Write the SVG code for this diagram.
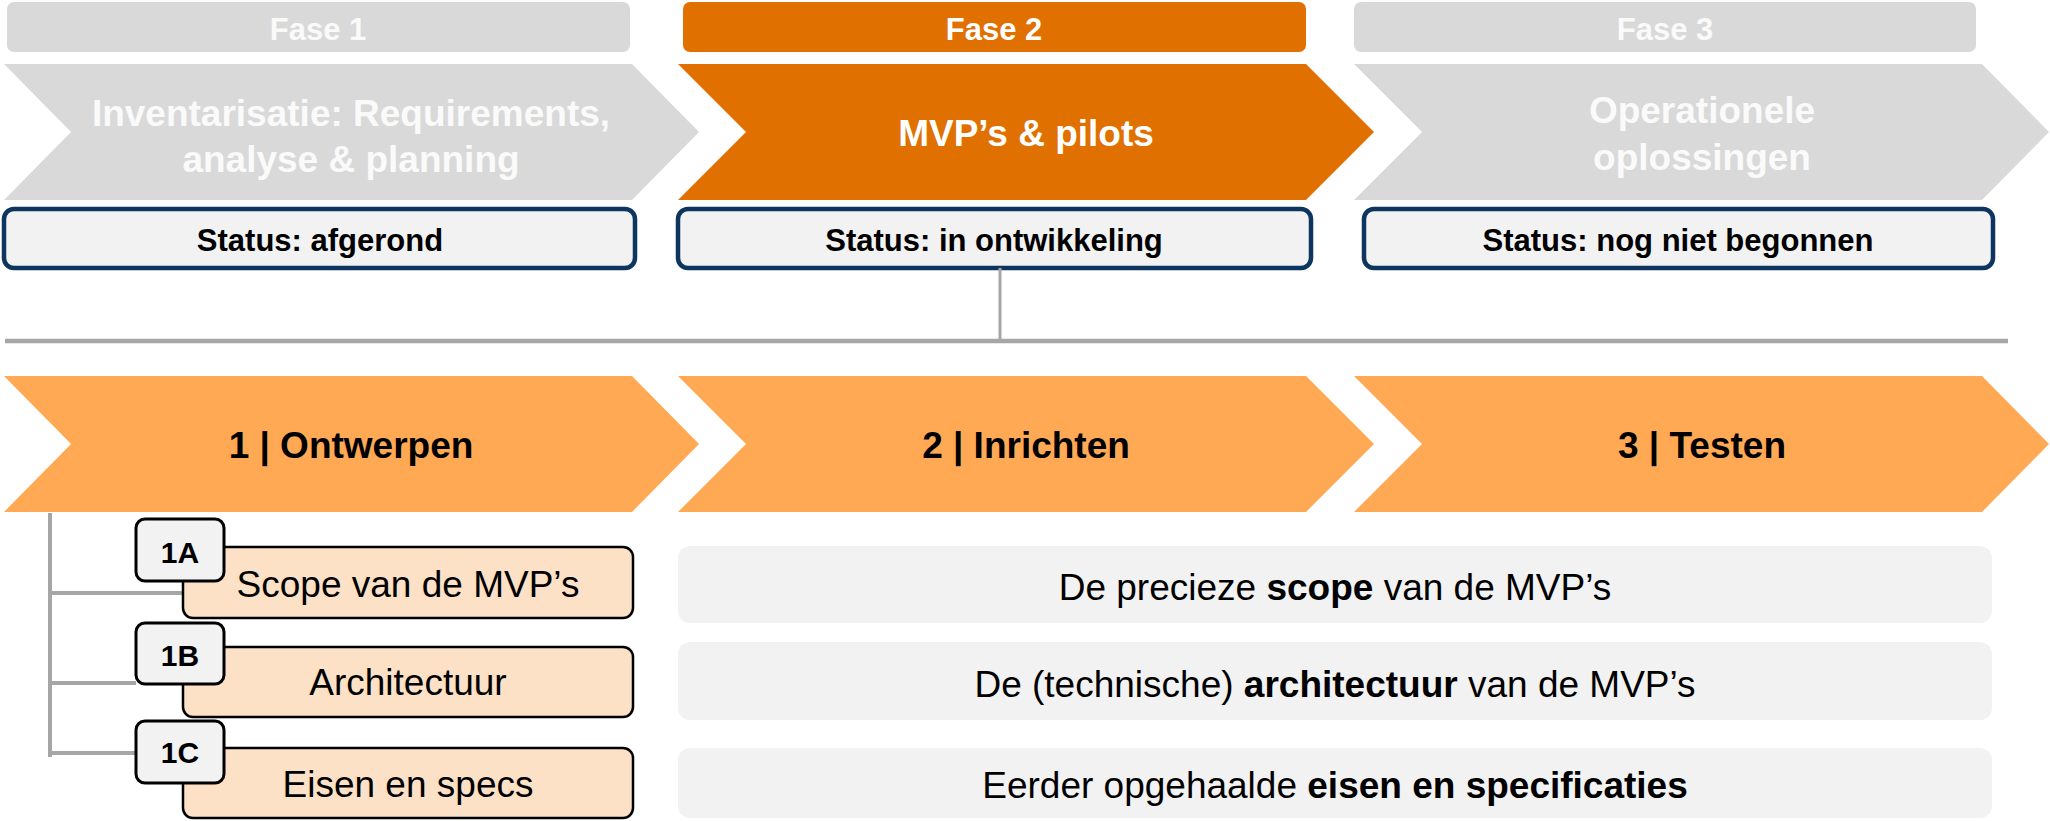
<svg xmlns="http://www.w3.org/2000/svg" width="2050" height="821" viewBox="0 0 2050 821">
<style>
text{font-family:"Liberation Sans",Arial,sans-serif;text-anchor:middle}
.b{font-weight:bold}
.fase{font-size:31px;font-weight:bold}
.chev{font-size:37px;font-weight:bold}
.stat{font-size:31px;font-weight:bold;fill:#000}
.statbox{fill:#f2f2f2;stroke:#0e3460;stroke-width:4.5}
.lbl{fill:#f2f2f2;stroke:#000;stroke-width:3}
.peach{fill:#fde1c6;stroke:#000;stroke-width:2.5}
.gbox{fill:#f2f2f2}
.ltxt{font-size:30px;font-weight:bold}
.ptxt{font-size:37px}
.line{stroke:#a6a6a6;fill:none}
</style>
<g id="fase1"><rect x="7" y="2" width="623" height="50" rx="7" fill="#d9d9d9"/><text x="318" y="40" class="fase" fill="#fafafa">Fase 1</text></g>
<g id="fase2"><rect x="683" y="2" width="623" height="50" rx="7" fill="#e07000"/><text x="994" y="40" class="fase" fill="#fff">Fase 2</text></g>
<g id="fase3"><rect x="1354" y="2" width="622" height="50" rx="7" fill="#d9d9d9"/><text x="1665" y="40" class="fase" fill="#fafafa">Fase 3</text></g>

<g id="chevron-inventarisatie"><polygon points="4,64 632,64 699,132 632,200 4,200 71,132" fill="#d9d9d9"/><text x="351" y="126" class="chev" fill="#fafafa">Inventarisatie: Requirements,</text><text x="351" y="172" class="chev" fill="#fafafa">analyse &amp; planning</text></g>
<g id="chevron-mvp"><polygon points="678,64 1306,64 1374,132 1306,200 678,200 746,132" fill="#e07000"/><text x="1026" y="146" class="chev" fill="#fff">MVP’s &amp; pilots</text></g>
<g id="chevron-operationeel"><polygon points="1354,64 1982,64 2049,132 1982,200 1354,200 1422,132" fill="#d9d9d9"/><text x="1702" y="123" class="chev" fill="#fafafa">Operationele</text><text x="1702" y="170" class="chev" fill="#fafafa">oplossingen</text></g>

<g id="status1"><rect x="4" y="209" width="631" height="59" rx="10" class="statbox"/><text x="320" y="251" class="stat">Status: afgerond</text></g>
<g id="status2"><rect x="678" y="209" width="633" height="59" rx="10" class="statbox"/><text x="994" y="251" class="stat">Status: in ontwikkeling</text></g>
<g id="status3"><rect x="1364" y="209" width="629" height="59" rx="10" class="statbox"/><text x="1678" y="251" class="stat">Status: nog niet begonnen</text></g>

<g id="connectors">
<line x1="1000" y1="268" x2="1000" y2="341" class="line" stroke-width="3"/>
<line x1="5" y1="341" x2="2008" y2="341" class="line" stroke-width="4.5"/>
<line x1="50" y1="513" x2="50" y2="757" class="line" stroke-width="4"/>
<line x1="50" y1="593" x2="183" y2="593" class="line" stroke-width="4"/>
<line x1="50" y1="683" x2="136" y2="683" class="line" stroke-width="4"/>
<line x1="50" y1="753" x2="136" y2="753" class="line" stroke-width="4"/>
</g>

<g id="step1"><polygon points="4,376 632,376 699,444 632,512 4,512 71,444" fill="#ffa955"/><text x="351" y="458" class="chev" fill="#000">1 | Ontwerpen</text></g>
<g id="step2"><polygon points="678,376 1306,376 1374,444 1306,512 678,512 746,444" fill="#ffa955"/><text x="1026" y="458" class="chev" fill="#000">2 | Inrichten</text></g>
<g id="step3"><polygon points="1354,376 1982,376 2049,444 1982,512 1354,512 1422,444" fill="#ffa955"/><text x="1702" y="458" class="chev" fill="#000">3 | Testen</text></g>

<g id="item1A"><rect x="183" y="547" width="450" height="71" rx="10" class="peach"/><rect x="136" y="519" width="88" height="62" rx="9" class="lbl"/><text x="180" y="563" class="ltxt">1A</text><text x="408" y="597" class="ptxt">Scope van de MVP’s</text></g>
<g id="item1B"><rect x="183" y="647" width="450" height="70" rx="10" class="peach"/><rect x="136" y="623" width="88" height="61" rx="9" class="lbl"/><text x="180" y="666" class="ltxt">1B</text><text x="408" y="695" class="ptxt">Architectuur</text></g>
<g id="item1C"><rect x="183" y="748" width="450" height="70" rx="10" class="peach"/><rect x="136" y="721" width="88" height="62" rx="9" class="lbl"/><text x="180" y="763" class="ltxt">1C</text><text x="408" y="797" class="ptxt">Eisen en specs</text></g>

<g id="desc1"><rect x="678" y="546" width="1314" height="77" rx="12" class="gbox"/><text x="1335" y="600" class="ptxt">De precieze <tspan class="b">scope</tspan> van de MVP’s</text></g>
<g id="desc2"><rect x="678" y="642" width="1314" height="78" rx="12" class="gbox"/><text x="1335" y="697" class="ptxt">De (technische) <tspan class="b">architectuur</tspan> van de MVP’s</text></g>
<g id="desc3"><rect x="678" y="748" width="1314" height="70" rx="12" class="gbox"/><text x="1335" y="798" class="ptxt">Eerder opgehaalde <tspan class="b">eisen en specificaties</tspan></text></g>
</svg>
